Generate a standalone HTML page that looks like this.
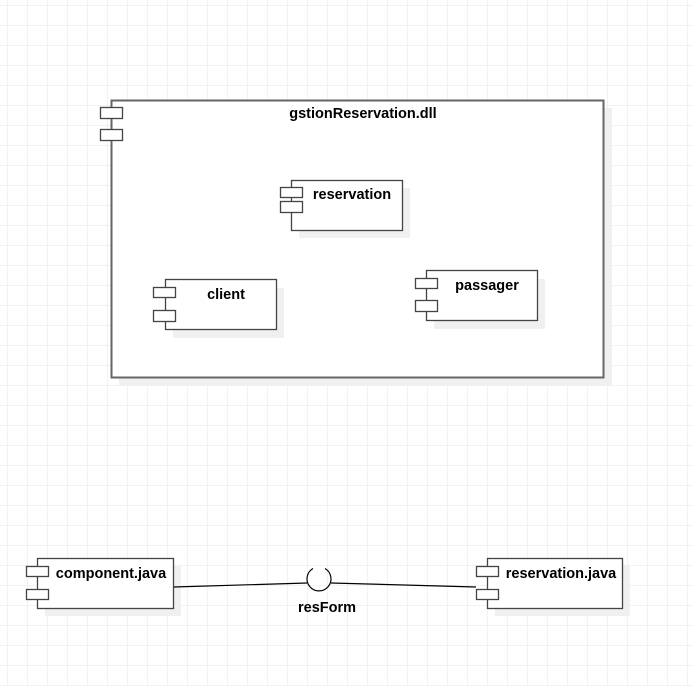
<!DOCTYPE html>
<html><head><meta charset="utf-8"><style>
html,body{margin:0;padding:0;background:#fff;}
svg{display:block;}
text{font-family:"Liberation Sans",Arial,sans-serif;font-weight:bold;font-size:14.5px;fill:#000;}
</style></head><body>
<svg width="693" height="686" xmlns="http://www.w3.org/2000/svg">
<defs>
<pattern id="g" x="7" y="5" width="20" height="20" patternUnits="userSpaceOnUse">
<path d="M0 0H20M0 0V20" stroke="#e6e6e6" stroke-width="1" fill="none"/>
</pattern>
</defs>
<rect x="0" y="0" width="693" height="686" fill="url(#g)"/>
<g stroke="#444" stroke-width="1.3" fill="#fff">
<!-- big box -->
<rect x="119" y="108" width="493" height="278" fill="#f0f0f0" stroke="none"/>
<rect x="111.5" y="100.5" width="492" height="277" stroke="#666" stroke-width="2"/>
<rect x="100.5" y="107.5" width="22" height="11"/>
<rect x="100.5" y="129.5" width="22" height="11"/>
<!-- reservation -->
<rect x="299" y="188" width="111" height="50" fill="#f0f0f0" stroke="none"/>
<rect x="291.5" y="180.5" width="111" height="50"/>
<rect x="280.5" y="187.5" width="22" height="10"/>
<rect x="280.5" y="201.5" width="22" height="11"/>
<!-- client -->
<rect x="173" y="288" width="111" height="50" fill="#f0f0f0" stroke="none"/>
<rect x="165.5" y="279.5" width="111" height="50"/>
<rect x="153.5" y="287.5" width="22" height="10"/>
<rect x="153.5" y="310.5" width="22" height="11"/>
<!-- passager -->
<rect x="434" y="279" width="111" height="50" fill="#f0f0f0" stroke="none"/>
<rect x="426.5" y="270.5" width="111" height="50"/>
<rect x="415.5" y="278.5" width="22" height="10"/>
<rect x="415.5" y="300.5" width="22" height="11"/>
<!-- component.java -->
<rect x="45" y="566" width="136" height="50" fill="#f0f0f0" stroke="none"/>
<rect x="37.5" y="558.5" width="136" height="50"/>
<rect x="26.5" y="566.5" width="22" height="10"/>
<rect x="26.5" y="589.5" width="22" height="10"/>
<!-- reservation.java -->
<rect x="495" y="566" width="135" height="50" fill="#f0f0f0" stroke="none"/>
<rect x="487.5" y="558.5" width="135" height="50"/>
<rect x="476.5" y="566.5" width="22" height="10"/>
<rect x="476.5" y="589.5" width="22" height="10"/>
</g>
<g stroke="#000" stroke-width="1.2" fill="none">
<path d="M174 587L307 583"/>
<path d="M331 583L476 587"/>
<path d="M313 568.5A12 12 0 1 0 325 568.5"/>
</g>
<text x="363" y="118" text-anchor="middle">gstionReservation.dll</text>
<text x="352" y="199" text-anchor="middle">reservation</text>
<text x="226" y="299" text-anchor="middle">client</text>
<text x="487" y="290" text-anchor="middle">passager</text>
<text x="111" y="578" text-anchor="middle">component.java</text>
<text x="561" y="578" text-anchor="middle">reservation.java</text>
<text x="327" y="612" text-anchor="middle">resForm</text>
</svg>
</body></html>
